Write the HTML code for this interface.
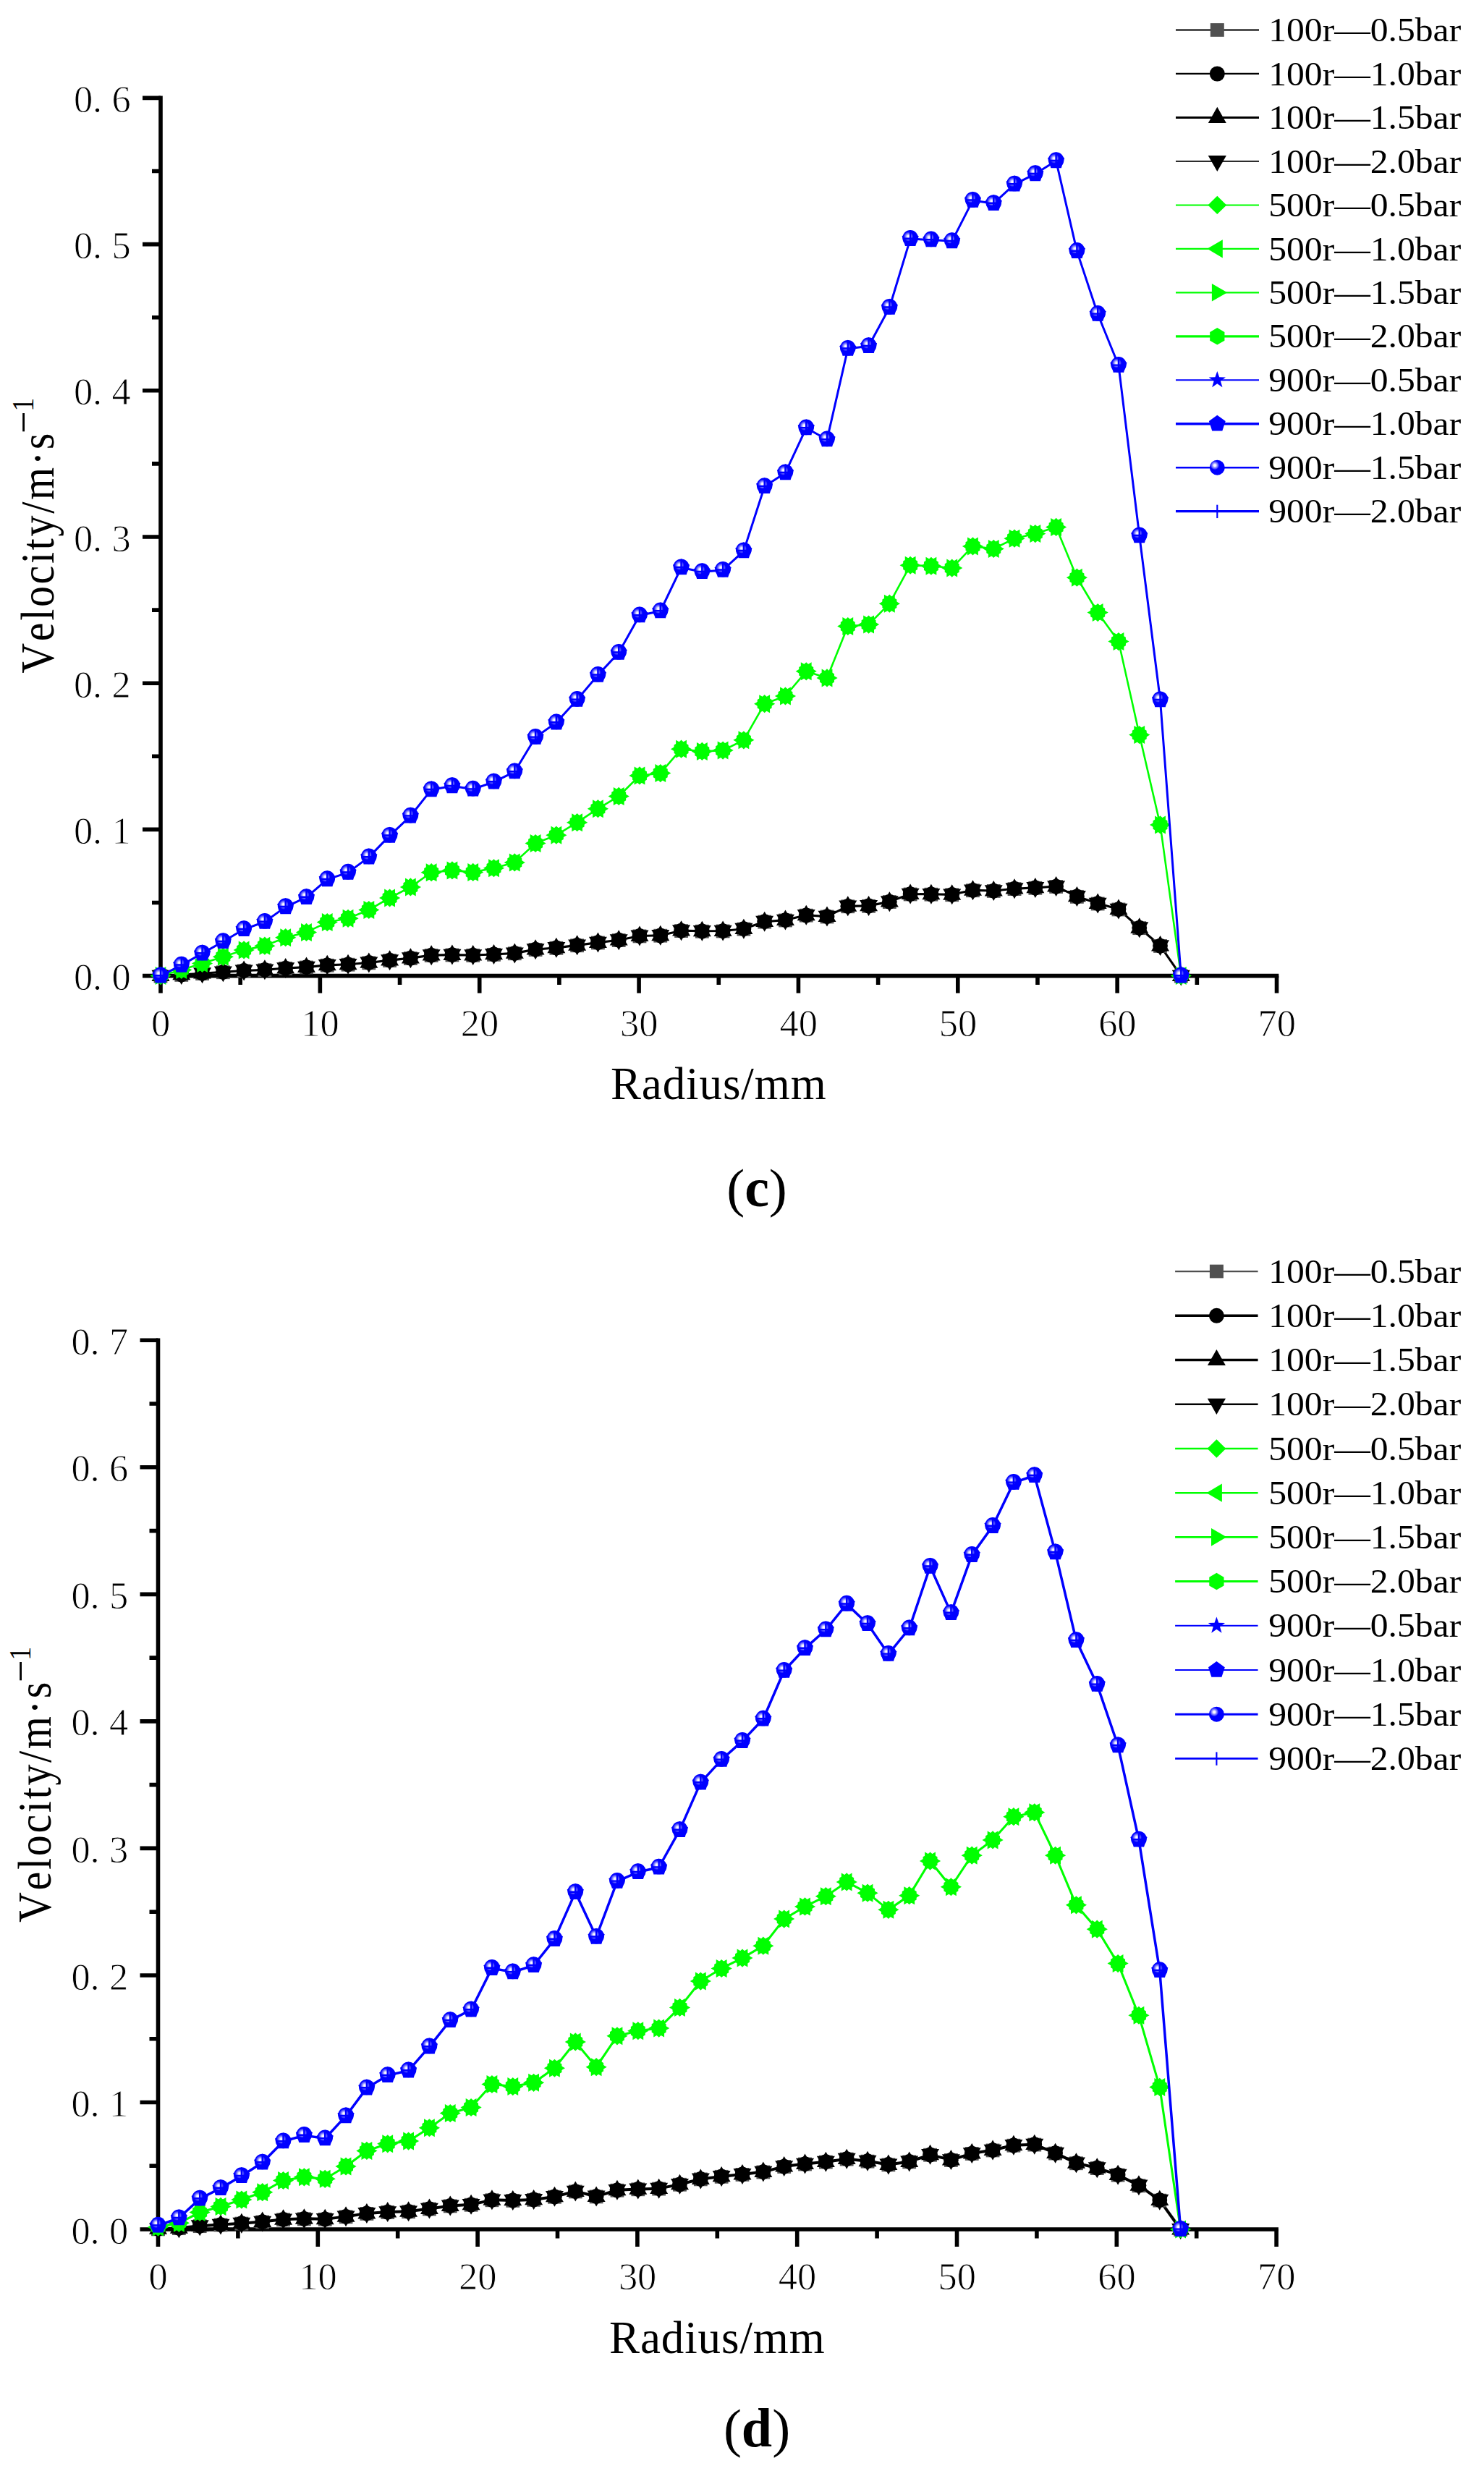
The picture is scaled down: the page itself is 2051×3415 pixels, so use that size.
<!DOCTYPE html>
<html lang="en"><head><meta charset="utf-8"><title>Velocity vs Radius</title>
<style>html,body{margin:0;padding:0;background:#fff}svg{display:block}</style></head>
<body>
<svg width="2051" height="3415" viewBox="0 0 2051 3415">
<defs><radialGradient id="sph" gradientUnits="userSpaceOnUse" cx="-2.6" cy="-3.2" r="6.6"><stop offset="0" stop-color="#ffffff"/><stop offset="0.25" stop-color="#f0f0ff"/><stop offset="0.55" stop-color="#9090ff"/><stop offset="0.85" stop-color="#3030ff"/><stop offset="1" stop-color="#0000ff"/></radialGradient><radialGradient id="sph2" gradientUnits="userSpaceOnUse" cx="-3.3" cy="-3.1" r="6"><stop offset="0" stop-color="#ffffff"/><stop offset="0.25" stop-color="#f4f4ff"/><stop offset="0.5" stop-color="#a0a0ff"/><stop offset="0.85" stop-color="#4040ff"/><stop offset="1" stop-color="#0000ff"/></radialGradient><g id="mk"><rect x="-9.4" y="-9" width="18.8" height="18.8" fill="#555"/><circle r="10.4" fill="#000"/><polygon points="0,-14 12.5,7.4 -12.5,7.4" fill="#000"/><polygon points="0,14 12.5,-7.9 -12.5,-7.9" fill="#000"/></g><g id="mg"><polygon points="0,-12.6 12.6,0 0,12.6 -12.6,0" fill="#0f0"/><polygon points="-14.6,0 7.4,-12.5 7.4,12.5" fill="#0f0"/><polygon points="14.6,0 -7.4,-12.5 -7.4,12.5" fill="#0f0"/><polygon points="0,-11.5 9.96,-5.75 9.96,5.75 0,11.5 -9.96,5.75 -9.96,-5.75" fill="#0f0"/></g><g id="mb"><polygon points="0,-12.2 2.94,-4.05 11.6,-3.77 4.76,1.55 7.17,9.87 0,5 -7.17,9.87 -4.76,1.55 -11.6,-3.77 -2.94,-4.05" fill="#00f"/><polygon points="0,-12.1 11.51,-3.74 7.11,9.79 -7.11,9.79 -11.51,-3.74" fill="#00f"/><circle cy="-1.2" r="10.8" fill="url(#sph)"/><path d="M0,-9V9M-9,-0.4H9" stroke="#00f" stroke-width="2.4" fill="none"/></g></defs>
<rect width="2051" height="3415" fill="#fff"/>
<path d="M222,132.6 V1372.6 M197,1348.6 H1767.32" stroke="#000" stroke-width="5.6" fill="none"/>
<path d="M210,1247.5 H222 M197,1146.4 H222 M210,1045.3 H222 M197,944.2 H222 M210,843.1 H222 M197,742 H222 M210,640.9 H222 M197,539.8 H222 M210,438.7 H222 M197,337.6 H222 M210,236.5 H222 M197,135.4 H222 M332.18,1348.6 V1361.1 M442.36,1348.6 V1372.6 M552.54,1348.6 V1361.1 M662.72,1348.6 V1372.6 M772.9,1348.6 V1361.1 M883.08,1348.6 V1372.6 M993.26,1348.6 V1361.1 M1103.44,1348.6 V1372.6 M1213.62,1348.6 V1361.1 M1323.8,1348.6 V1372.6 M1433.98,1348.6 V1361.1 M1544.16,1348.6 V1372.6 M1654.34,1348.6 V1361.1 M1764.52,1348.6 V1372.6" stroke="#000" stroke-width="5.6" fill="none"/>
<g font-family="'Liberation Serif', serif" font-size="52.5" fill="#000" stroke="#fff" stroke-width="0.9">
<text x="102 128 154.5" y="1368.2">0.0</text>
<text x="102 128 154.5" y="1166">0.1</text>
<text x="102 128 154.5" y="963.8">0.2</text>
<text x="102 128 154.5" y="761.6">0.3</text>
<text x="102 128 154.5" y="559.4">0.4</text>
<text x="102 128 154.5" y="357.2">0.5</text>
<text x="102 128 154.5" y="155">0.6</text>
<text x="208.9" y="1431.8">0</text>
<text x="416.36 442.56" y="1431.8">10</text>
<text x="636.72 662.92" y="1431.8">20</text>
<text x="857.08 883.28" y="1431.8">30</text>
<text x="1077.44 1103.64" y="1431.8">40</text>
<text x="1297.8 1324" y="1431.8">50</text>
<text x="1518.16 1544.36" y="1431.8">60</text>
<text x="1738.52 1764.72" y="1431.8">70</text>
</g>
<polyline points="222,1348.6 250.78,1346.97 279.56,1345.18 308.35,1343.36 337.13,1341.48 365.91,1340.34 394.69,1338.06 423.47,1336.61 452.25,1333.85 481.04,1332.8 509.82,1330.45 538.6,1327.16 567.38,1324.16 596.16,1320.14 624.94,1319.58 653.73,1320.07 682.51,1318.95 711.29,1317.38 740.07,1312.13 768.85,1309.87 797.63,1306.37 826.42,1302.59 855.2,1299.17 883.98,1293.49 912.76,1292.81 941.54,1286.17 970.32,1286.82 999.11,1286.55 1027.89,1283.71 1056.67,1273.72 1085.45,1271.59 1114.23,1264.78 1143.01,1266.59 1171.8,1252.37 1200.58,1251.89 1229.36,1246.13 1258.14,1235.58 1286.92,1235.78 1315.71,1236.34 1344.49,1230.34 1373.27,1231.03 1402.05,1228.21 1430.83,1226.88 1459.61,1225.06 1488.4,1238.96 1517.18,1248.59 1545.96,1256.56 1574.74,1282.26 1603.52,1307.03 1632.3,1348.6" fill="none" stroke="#000" stroke-width="3.1" stroke-linejoin="round"/><use href="#mk" x="222" y="1348.6"/><use href="#mk" x="250.78" y="1346.97"/><use href="#mk" x="279.56" y="1345.18"/><use href="#mk" x="308.35" y="1343.36"/><use href="#mk" x="337.13" y="1341.48"/><use href="#mk" x="365.91" y="1340.34"/><use href="#mk" x="394.69" y="1338.06"/><use href="#mk" x="423.47" y="1336.61"/><use href="#mk" x="452.25" y="1333.85"/><use href="#mk" x="481.04" y="1332.8"/><use href="#mk" x="509.82" y="1330.45"/><use href="#mk" x="538.6" y="1327.16"/><use href="#mk" x="567.38" y="1324.16"/><use href="#mk" x="596.16" y="1320.14"/><use href="#mk" x="624.94" y="1319.58"/><use href="#mk" x="653.73" y="1320.07"/><use href="#mk" x="682.51" y="1318.95"/><use href="#mk" x="711.29" y="1317.38"/><use href="#mk" x="740.07" y="1312.13"/><use href="#mk" x="768.85" y="1309.87"/><use href="#mk" x="797.63" y="1306.37"/><use href="#mk" x="826.42" y="1302.59"/><use href="#mk" x="855.2" y="1299.17"/><use href="#mk" x="883.98" y="1293.49"/><use href="#mk" x="912.76" y="1292.81"/><use href="#mk" x="941.54" y="1286.17"/><use href="#mk" x="970.32" y="1286.82"/><use href="#mk" x="999.11" y="1286.55"/><use href="#mk" x="1027.89" y="1283.71"/><use href="#mk" x="1056.67" y="1273.72"/><use href="#mk" x="1085.45" y="1271.59"/><use href="#mk" x="1114.23" y="1264.78"/><use href="#mk" x="1143.01" y="1266.59"/><use href="#mk" x="1171.8" y="1252.37"/><use href="#mk" x="1200.58" y="1251.89"/><use href="#mk" x="1229.36" y="1246.13"/><use href="#mk" x="1258.14" y="1235.58"/><use href="#mk" x="1286.92" y="1235.78"/><use href="#mk" x="1315.71" y="1236.34"/><use href="#mk" x="1344.49" y="1230.34"/><use href="#mk" x="1373.27" y="1231.03"/><use href="#mk" x="1402.05" y="1228.21"/><use href="#mk" x="1430.83" y="1226.88"/><use href="#mk" x="1459.61" y="1225.06"/><use href="#mk" x="1488.4" y="1238.96"/><use href="#mk" x="1517.18" y="1248.59"/><use href="#mk" x="1545.96" y="1256.56"/><use href="#mk" x="1574.74" y="1282.26"/><use href="#mk" x="1603.52" y="1307.03"/><use href="#mk" x="1632.3" y="1348.6"/>
<polyline points="222,1348.6 250.78,1340.4 279.56,1331.41 308.35,1322.31 337.13,1312.88 365.91,1307.15 394.69,1295.69 423.47,1288.39 452.25,1274.57 481.04,1269.29 509.82,1257.5 538.6,1240.98 567.38,1225.93 596.16,1205.71 624.94,1202.9 653.73,1205.38 682.51,1199.76 711.29,1191.89 740.07,1165.5 768.85,1154.15 797.63,1136.63 826.42,1117.64 855.2,1100.46 883.98,1071.92 912.76,1068.55 941.54,1035.19 970.32,1038.45 999.11,1037.1 1027.89,1022.86 1056.67,972.71 1085.45,961.99 1114.23,927.82 1143.01,936.92 1171.8,865.54 1200.58,863.12 1229.36,834.2 1258.14,781.23 1286.92,782.24 1315.71,785.07 1344.49,754.94 1373.27,758.38 1402.05,744.22 1430.83,737.55 1459.61,728.45 1488.4,798.21 1517.18,846.54 1545.96,886.57 1574.74,1015.58 1603.52,1139.93 1632.3,1348.6" fill="none" stroke="#0f0" stroke-width="2.6" stroke-linejoin="round"/><use href="#mg" x="222" y="1348.6"/><use href="#mg" x="250.78" y="1340.4"/><use href="#mg" x="279.56" y="1331.41"/><use href="#mg" x="308.35" y="1322.31"/><use href="#mg" x="337.13" y="1312.88"/><use href="#mg" x="365.91" y="1307.15"/><use href="#mg" x="394.69" y="1295.69"/><use href="#mg" x="423.47" y="1288.39"/><use href="#mg" x="452.25" y="1274.57"/><use href="#mg" x="481.04" y="1269.29"/><use href="#mg" x="509.82" y="1257.5"/><use href="#mg" x="538.6" y="1240.98"/><use href="#mg" x="567.38" y="1225.93"/><use href="#mg" x="596.16" y="1205.71"/><use href="#mg" x="624.94" y="1202.9"/><use href="#mg" x="653.73" y="1205.38"/><use href="#mg" x="682.51" y="1199.76"/><use href="#mg" x="711.29" y="1191.89"/><use href="#mg" x="740.07" y="1165.5"/><use href="#mg" x="768.85" y="1154.15"/><use href="#mg" x="797.63" y="1136.63"/><use href="#mg" x="826.42" y="1117.64"/><use href="#mg" x="855.2" y="1100.46"/><use href="#mg" x="883.98" y="1071.92"/><use href="#mg" x="912.76" y="1068.55"/><use href="#mg" x="941.54" y="1035.19"/><use href="#mg" x="970.32" y="1038.45"/><use href="#mg" x="999.11" y="1037.1"/><use href="#mg" x="1027.89" y="1022.86"/><use href="#mg" x="1056.67" y="972.71"/><use href="#mg" x="1085.45" y="961.99"/><use href="#mg" x="1114.23" y="927.82"/><use href="#mg" x="1143.01" y="936.92"/><use href="#mg" x="1171.8" y="865.54"/><use href="#mg" x="1200.58" y="863.12"/><use href="#mg" x="1229.36" y="834.2"/><use href="#mg" x="1258.14" y="781.23"/><use href="#mg" x="1286.92" y="782.24"/><use href="#mg" x="1315.71" y="785.07"/><use href="#mg" x="1344.49" y="754.94"/><use href="#mg" x="1373.27" y="758.38"/><use href="#mg" x="1402.05" y="744.22"/><use href="#mg" x="1430.83" y="737.55"/><use href="#mg" x="1459.61" y="728.45"/><use href="#mg" x="1488.4" y="798.21"/><use href="#mg" x="1517.18" y="846.54"/><use href="#mg" x="1545.96" y="886.57"/><use href="#mg" x="1574.74" y="1015.58"/><use href="#mg" x="1603.52" y="1139.93"/><use href="#mg" x="1632.3" y="1348.6"/>
<polyline points="222,1348.6 250.78,1333.84 279.56,1317.66 308.35,1301.29 337.13,1284.3 365.91,1273.99 394.69,1253.36 423.47,1240.22 452.25,1215.35 481.04,1205.85 509.82,1184.62 538.6,1154.89 567.38,1127.8 596.16,1091.4 624.94,1086.35 653.73,1090.79 682.51,1080.68 711.29,1066.53 740.07,1019.01 768.85,998.59 797.63,967.05 826.42,932.88 855.2,901.94 883.98,850.58 912.76,844.52 941.54,784.46 970.32,790.33 999.11,787.9 1027.89,761.41 1056.67,672.24 1085.45,653.44 1114.23,591.56 1143.01,607.54 1171.8,481.97 1200.58,478.33 1229.36,424.95 1258.14,330.12 1286.92,331.53 1315.71,333.35 1344.49,276.94 1373.27,281.19 1402.05,254.7 1430.83,240.34 1459.61,222.35 1488.4,347.1 1517.18,434.05 1545.96,505.02 1574.74,740.38 1603.52,967.45 1632.3,1348.6" fill="none" stroke="#00f" stroke-width="3.0" stroke-linejoin="round"/><use href="#mb" x="222" y="1348.6"/><use href="#mb" x="250.78" y="1333.84"/><use href="#mb" x="279.56" y="1317.66"/><use href="#mb" x="308.35" y="1301.29"/><use href="#mb" x="337.13" y="1284.3"/><use href="#mb" x="365.91" y="1273.99"/><use href="#mb" x="394.69" y="1253.36"/><use href="#mb" x="423.47" y="1240.22"/><use href="#mb" x="452.25" y="1215.35"/><use href="#mb" x="481.04" y="1205.85"/><use href="#mb" x="509.82" y="1184.62"/><use href="#mb" x="538.6" y="1154.89"/><use href="#mb" x="567.38" y="1127.8"/><use href="#mb" x="596.16" y="1091.4"/><use href="#mb" x="624.94" y="1086.35"/><use href="#mb" x="653.73" y="1090.79"/><use href="#mb" x="682.51" y="1080.68"/><use href="#mb" x="711.29" y="1066.53"/><use href="#mb" x="740.07" y="1019.01"/><use href="#mb" x="768.85" y="998.59"/><use href="#mb" x="797.63" y="967.05"/><use href="#mb" x="826.42" y="932.88"/><use href="#mb" x="855.2" y="901.94"/><use href="#mb" x="883.98" y="850.58"/><use href="#mb" x="912.76" y="844.52"/><use href="#mb" x="941.54" y="784.46"/><use href="#mb" x="970.32" y="790.33"/><use href="#mb" x="999.11" y="787.9"/><use href="#mb" x="1027.89" y="761.41"/><use href="#mb" x="1056.67" y="672.24"/><use href="#mb" x="1085.45" y="653.44"/><use href="#mb" x="1114.23" y="591.56"/><use href="#mb" x="1143.01" y="607.54"/><use href="#mb" x="1171.8" y="481.97"/><use href="#mb" x="1200.58" y="478.33"/><use href="#mb" x="1229.36" y="424.95"/><use href="#mb" x="1258.14" y="330.12"/><use href="#mb" x="1286.92" y="331.53"/><use href="#mb" x="1315.71" y="333.35"/><use href="#mb" x="1344.49" y="276.94"/><use href="#mb" x="1373.27" y="281.19"/><use href="#mb" x="1402.05" y="254.7"/><use href="#mb" x="1430.83" y="240.34"/><use href="#mb" x="1459.61" y="222.35"/><use href="#mb" x="1488.4" y="347.1"/><use href="#mb" x="1517.18" y="434.05"/><use href="#mb" x="1545.96" y="505.02"/><use href="#mb" x="1574.74" y="740.38"/><use href="#mb" x="1603.52" y="967.45"/><use href="#mb" x="1632.3" y="1348.6"/>
<text transform="translate(73.8,739) rotate(-90) scale(0.88,1)" text-anchor="middle" font-family="'Liberation Serif', serif" font-size="66" letter-spacing="3.0" style="font-kerning:none" fill="#000">Velocity/m·s<tspan dy="-27.5" font-size="56">–</tspan><tspan font-size="43">1</tspan></text>
<text x="993.26" y="1519.1" text-anchor="middle" font-family="'Liberation Serif', serif" font-size="63" letter-spacing="0.9" fill="#000">Radius/mm</text>
<text x="1046" y="1666.5" text-anchor="middle" font-family="'Liberation Serif', serif" font-size="76" fill="#000"><tspan font-size="75">(</tspan><tspan font-weight="bold">c</tspan><tspan font-size="75">)</tspan></text>
<g font-family="'Liberation Serif', serif" font-size="46.5" fill="#000">
<path d="M1625,41.5 H1740" stroke="#505050" stroke-width="3.0"/>
<g transform="translate(1682.3,41.5)"><rect x="-9.5" y="-9.4" width="19" height="18.7" fill="#505050"/></g>
<text transform="translate(1753.2,57.2) scale(1.0675,1)">100r—0.5bar</text>
<path d="M1625,101.97 H1740" stroke="#000" stroke-width="2.2"/>
<g transform="translate(1682.3,101.97)"><circle r="10.5" fill="#000"/></g>
<text transform="translate(1753.2,117.67) scale(1.0675,1)">100r—1.0bar</text>
<path d="M1625,162.44 H1740" stroke="#000" stroke-width="3.1"/>
<g transform="translate(1682.3,162.44)"><polygon points="0,-14.6 12.5,7.6 -12.5,7.6" fill="#000"/></g>
<text transform="translate(1753.2,178.14) scale(1.0675,1)">100r—1.5bar</text>
<path d="M1625,222.91 H1740" stroke="#000" stroke-width="1.9"/>
<g transform="translate(1682.3,222.91)"><polygon points="0,14.2 12.6,-8 -12.6,-8" fill="#000"/></g>
<text transform="translate(1753.2,238.61) scale(1.0675,1)">100r—2.0bar</text>
<path d="M1625,283.38 H1740" stroke="#0f0" stroke-width="2.0"/>
<g transform="translate(1682.3,283.38)"><polygon points="0,-12.7 12.9,0 0,12.7 -12.9,0" fill="#0f0"/></g>
<text transform="translate(1753.2,299.08) scale(1.0675,1)">500r—0.5bar</text>
<path d="M1625,343.85 H1740" stroke="#0f0" stroke-width="2.2"/>
<g transform="translate(1682.3,343.85)"><polygon points="-13.9,0 7.5,-12.6 7.5,12.6" fill="#0f0"/></g>
<text transform="translate(1753.2,359.55) scale(1.0675,1)">500r—1.0bar</text>
<path d="M1625,404.32 H1740" stroke="#0f0" stroke-width="2.2"/>
<g transform="translate(1682.3,404.32)"><polygon points="13.9,0 -7.4,-12.3 -7.4,12.3" fill="#0f0"/></g>
<text transform="translate(1753.2,420.02) scale(1.0675,1)">500r—1.5bar</text>
<path d="M1625,464.79 H1740" stroke="#0f0" stroke-width="3.3"/>
<g transform="translate(1682.3,464.79)"><polygon points="0,-11.7 10.13,-5.85 10.13,5.85 0,11.7 -10.13,5.85 -10.13,-5.85" fill="#0f0"/></g>
<text transform="translate(1753.2,480.49) scale(1.0675,1)">500r—2.0bar</text>
<path d="M1625,525.26 H1740" stroke="#00f" stroke-width="2.1"/>
<g transform="translate(1682.3,525.26)"><polygon points="0,-12.2 2.88,-3.96 11.6,-3.77 4.66,1.51 7.17,9.87 0,4.9 -7.17,9.87 -4.66,1.51 -11.6,-3.77 -2.88,-3.96" fill="#00f"/></g>
<text transform="translate(1753.2,540.96) scale(1.0675,1)">900r—0.5bar</text>
<path d="M1625,585.73 H1740" stroke="#00f" stroke-width="3.3"/>
<g transform="translate(1682.3,585.73)"><polygon points="0,-12 11.41,-3.71 7.05,9.71 -7.05,9.71 -11.41,-3.71" fill="#00f"/></g>
<text transform="translate(1753.2,601.43) scale(1.0675,1)">900r—1.0bar</text>
<path d="M1625,646.2 H1740" stroke="#00f" stroke-width="2.4"/>
<g transform="translate(1682.3,646.2)"><circle r="10.5" fill="url(#sph2)"/></g>
<text transform="translate(1753.2,661.9) scale(1.0675,1)">900r—1.5bar</text>
<path d="M1625,706.67 H1740" stroke="#00f" stroke-width="3.2"/>
<g transform="translate(1682.3,706.67)"><path d="M0,-9V9.4" stroke="#00f" stroke-width="2.1"/></g>
<text transform="translate(1753.2,722.37) scale(1.0675,1)">900r—2.0bar</text>
</g>
<path d="M218.5,1849.49 V3105 M193.5,3081 H1766.9" stroke="#000" stroke-width="5.6" fill="none"/>
<path d="M206.5,2993.24 H218.5 M193.5,2905.47 H218.5 M206.5,2817.7 H218.5 M193.5,2729.94 H218.5 M206.5,2642.18 H218.5 M193.5,2554.41 H218.5 M206.5,2466.64 H218.5 M193.5,2378.88 H218.5 M206.5,2291.11 H218.5 M193.5,2203.35 H218.5 M206.5,2115.59 H218.5 M193.5,2027.82 H218.5 M206.5,1940.06 H218.5 M193.5,1852.29 H218.5 M328.9,3081 V3093.5 M439.3,3081 V3105 M549.7,3081 V3093.5 M660.1,3081 V3105 M770.5,3081 V3093.5 M880.9,3081 V3105 M991.3,3081 V3093.5 M1101.7,3081 V3105 M1212.1,3081 V3093.5 M1322.5,3081 V3105 M1432.9,3081 V3093.5 M1543.3,3081 V3105 M1653.7,3081 V3093.5 M1764.1,3081 V3105" stroke="#000" stroke-width="5.6" fill="none"/>
<g font-family="'Liberation Serif', serif" font-size="52.5" fill="#000" stroke="#fff" stroke-width="0.9">
<text x="98.5 124.5 151" y="3100.6">0.0</text>
<text x="98.5 124.5 151" y="2925.07">0.1</text>
<text x="98.5 124.5 151" y="2749.54">0.2</text>
<text x="98.5 124.5 151" y="2574.01">0.3</text>
<text x="98.5 124.5 151" y="2398.48">0.4</text>
<text x="98.5 124.5 151" y="2222.95">0.5</text>
<text x="98.5 124.5 151" y="2047.42">0.6</text>
<text x="98.5 124.5 151" y="1871.89">0.7</text>
<text x="205.4" y="3164.2">0</text>
<text x="413.3 439.5" y="3164.2">10</text>
<text x="634.1 660.3" y="3164.2">20</text>
<text x="854.9 881.1" y="3164.2">30</text>
<text x="1075.7 1101.9" y="3164.2">40</text>
<text x="1296.5 1322.7" y="3164.2">50</text>
<text x="1517.3 1543.5" y="3164.2">60</text>
<text x="1738.1 1764.3" y="3164.2">70</text>
</g>
<polyline points="218.5,3080.41 247.34,3079.24 276.18,3076.24 305.02,3074.6 333.86,3072.7 362.7,3070.6 391.54,3067.32 420.37,3066.37 449.21,3066.87 478.05,3063.37 506.89,3059 535.73,3057.04 564.57,3056.29 593.41,3052.58 622.25,3048.48 651.09,3046.84 679.93,3040.36 708.77,3040.97 737.61,3039.92 766.44,3035.85 795.28,3028.54 824.12,3035.5 852.96,3026.84 881.8,3025.4 910.64,3024.66 939.48,3018.85 968.32,3011.48 997.16,3007.92 1026,3005 1054.84,3001.58 1083.68,2994.07 1112.51,2990.59 1141.35,2987.7 1170.19,2983.69 1199.03,2986.77 1227.87,2991.48 1256.71,2987.48 1285.55,2977.84 1314.39,2985.07 1343.23,2976.06 1372.07,2971.55 1400.91,2964.79 1429.75,2963.68 1458.58,2975.64 1487.42,2989.36 1516.26,2996.2 1545.1,3005.71 1573.94,3020.37 1602.78,3040.72 1631.62,3081" fill="none" stroke="#000" stroke-width="4.0" stroke-linejoin="round"/><use href="#mk" x="218.5" y="3080.41"/><use href="#mk" x="247.34" y="3079.24"/><use href="#mk" x="276.18" y="3076.24"/><use href="#mk" x="305.02" y="3074.6"/><use href="#mk" x="333.86" y="3072.7"/><use href="#mk" x="362.7" y="3070.6"/><use href="#mk" x="391.54" y="3067.32"/><use href="#mk" x="420.37" y="3066.37"/><use href="#mk" x="449.21" y="3066.87"/><use href="#mk" x="478.05" y="3063.37"/><use href="#mk" x="506.89" y="3059"/><use href="#mk" x="535.73" y="3057.04"/><use href="#mk" x="564.57" y="3056.29"/><use href="#mk" x="593.41" y="3052.58"/><use href="#mk" x="622.25" y="3048.48"/><use href="#mk" x="651.09" y="3046.84"/><use href="#mk" x="679.93" y="3040.36"/><use href="#mk" x="708.77" y="3040.97"/><use href="#mk" x="737.61" y="3039.92"/><use href="#mk" x="766.44" y="3035.85"/><use href="#mk" x="795.28" y="3028.54"/><use href="#mk" x="824.12" y="3035.5"/><use href="#mk" x="852.96" y="3026.84"/><use href="#mk" x="881.8" y="3025.4"/><use href="#mk" x="910.64" y="3024.66"/><use href="#mk" x="939.48" y="3018.85"/><use href="#mk" x="968.32" y="3011.48"/><use href="#mk" x="997.16" y="3007.92"/><use href="#mk" x="1026" y="3005"/><use href="#mk" x="1054.84" y="3001.58"/><use href="#mk" x="1083.68" y="2994.07"/><use href="#mk" x="1112.51" y="2990.59"/><use href="#mk" x="1141.35" y="2987.7"/><use href="#mk" x="1170.19" y="2983.69"/><use href="#mk" x="1199.03" y="2986.77"/><use href="#mk" x="1227.87" y="2991.48"/><use href="#mk" x="1256.71" y="2987.48"/><use href="#mk" x="1285.55" y="2977.84"/><use href="#mk" x="1314.39" y="2985.07"/><use href="#mk" x="1343.23" y="2976.06"/><use href="#mk" x="1372.07" y="2971.55"/><use href="#mk" x="1400.91" y="2964.79"/><use href="#mk" x="1429.75" y="2963.68"/><use href="#mk" x="1458.58" y="2975.64"/><use href="#mk" x="1487.42" y="2989.36"/><use href="#mk" x="1516.26" y="2996.2"/><use href="#mk" x="1545.1" y="3005.71"/><use href="#mk" x="1573.94" y="3020.37"/><use href="#mk" x="1602.78" y="3040.72"/><use href="#mk" x="1631.62" y="3081"/>
<polyline points="218.5,3078.07 247.34,3072.32 276.18,3057.5 305.02,3049.4 333.86,3040.04 362.7,3029.71 391.54,3013.52 420.37,3008.84 449.21,3011.28 478.05,2994.02 506.89,2972.46 535.73,2962.81 564.57,2959.1 593.41,2940.77 622.25,2920.59 651.09,2912.49 679.93,2880.51 708.77,2883.53 737.61,2878.36 766.44,2858.27 795.28,2821.92 824.12,2856.67 852.96,2813.8 881.8,2806.69 910.64,2803.08 939.48,2774.41 968.32,2738.03 997.16,2720.48 1026,2706.05 1054.84,2689.18 1083.68,2652.12 1112.51,2634.96 1141.35,2620.72 1170.19,2600.93 1199.03,2616.14 1227.87,2639.35 1256.71,2619.65 1285.55,2572.06 1314.39,2607.75 1343.23,2564.18 1372.07,2542.92 1400.91,2510.67 1429.75,2504.74 1458.58,2564.24 1487.42,2632.87 1516.26,2666.22 1545.1,2713.62 1573.94,2785.23 1602.78,2884.41 1631.62,3081" fill="none" stroke="#0f0" stroke-width="3.1" stroke-linejoin="round"/><use href="#mg" x="218.5" y="3078.07"/><use href="#mg" x="247.34" y="3072.32"/><use href="#mg" x="276.18" y="3057.5"/><use href="#mg" x="305.02" y="3049.4"/><use href="#mg" x="333.86" y="3040.04"/><use href="#mg" x="362.7" y="3029.71"/><use href="#mg" x="391.54" y="3013.52"/><use href="#mg" x="420.37" y="3008.84"/><use href="#mg" x="449.21" y="3011.28"/><use href="#mg" x="478.05" y="2994.02"/><use href="#mg" x="506.89" y="2972.46"/><use href="#mg" x="535.73" y="2962.81"/><use href="#mg" x="564.57" y="2959.1"/><use href="#mg" x="593.41" y="2940.77"/><use href="#mg" x="622.25" y="2920.59"/><use href="#mg" x="651.09" y="2912.49"/><use href="#mg" x="679.93" y="2880.51"/><use href="#mg" x="708.77" y="2883.53"/><use href="#mg" x="737.61" y="2878.36"/><use href="#mg" x="766.44" y="2858.27"/><use href="#mg" x="795.28" y="2821.92"/><use href="#mg" x="824.12" y="2856.67"/><use href="#mg" x="852.96" y="2813.8"/><use href="#mg" x="881.8" y="2806.69"/><use href="#mg" x="910.64" y="2803.08"/><use href="#mg" x="939.48" y="2774.41"/><use href="#mg" x="968.32" y="2738.03"/><use href="#mg" x="997.16" y="2720.48"/><use href="#mg" x="1026" y="2706.05"/><use href="#mg" x="1054.84" y="2689.18"/><use href="#mg" x="1083.68" y="2652.12"/><use href="#mg" x="1112.51" y="2634.96"/><use href="#mg" x="1141.35" y="2620.72"/><use href="#mg" x="1170.19" y="2600.93"/><use href="#mg" x="1199.03" y="2616.14"/><use href="#mg" x="1227.87" y="2639.35"/><use href="#mg" x="1256.71" y="2619.65"/><use href="#mg" x="1285.55" y="2572.06"/><use href="#mg" x="1314.39" y="2607.75"/><use href="#mg" x="1343.23" y="2564.18"/><use href="#mg" x="1372.07" y="2542.92"/><use href="#mg" x="1400.91" y="2510.67"/><use href="#mg" x="1429.75" y="2504.74"/><use href="#mg" x="1458.58" y="2564.24"/><use href="#mg" x="1487.42" y="2632.87"/><use href="#mg" x="1516.26" y="2666.22"/><use href="#mg" x="1545.1" y="2713.62"/><use href="#mg" x="1573.94" y="2785.23"/><use href="#mg" x="1602.78" y="2884.41"/><use href="#mg" x="1631.62" y="3081"/>
<polyline points="218.5,3075.73 247.34,3065.38 276.18,3038.7 305.02,3024.13 333.86,3007.28 362.7,2988.67 391.54,2959.53 420.37,2951.11 449.21,2955.5 478.05,2924.43 506.89,2885.64 535.73,2868.26 564.57,2861.59 593.41,2828.59 622.25,2792.25 651.09,2777.68 679.93,2720.11 708.77,2725.55 737.61,2716.25 766.44,2680.09 795.28,2615.14 824.12,2676.93 852.96,2600.05 881.8,2587.23 910.64,2580.74 939.48,2529.13 968.32,2463.66 997.16,2432.07 1026,2406.09 1054.84,2375.72 1083.68,2309.02 1112.51,2278.13 1141.35,2252.5 1170.19,2216.87 1199.03,2244.25 1227.87,2286.02 1256.71,2250.57 1285.55,2164.91 1314.39,2229.15 1343.23,2149.11 1372.07,2109.09 1400.91,2049.06 1429.75,2039.23 1458.58,2145.43 1487.42,2267.24 1516.26,2327.98 1545.1,2412.41 1573.94,2542.65 1602.78,2723.27 1631.62,3081" fill="none" stroke="#00f" stroke-width="3.5" stroke-linejoin="round"/><use href="#mb" x="218.5" y="3075.73"/><use href="#mb" x="247.34" y="3065.38"/><use href="#mb" x="276.18" y="3038.7"/><use href="#mb" x="305.02" y="3024.13"/><use href="#mb" x="333.86" y="3007.28"/><use href="#mb" x="362.7" y="2988.67"/><use href="#mb" x="391.54" y="2959.53"/><use href="#mb" x="420.37" y="2951.11"/><use href="#mb" x="449.21" y="2955.5"/><use href="#mb" x="478.05" y="2924.43"/><use href="#mb" x="506.89" y="2885.64"/><use href="#mb" x="535.73" y="2868.26"/><use href="#mb" x="564.57" y="2861.59"/><use href="#mb" x="593.41" y="2828.59"/><use href="#mb" x="622.25" y="2792.25"/><use href="#mb" x="651.09" y="2777.68"/><use href="#mb" x="679.93" y="2720.11"/><use href="#mb" x="708.77" y="2725.55"/><use href="#mb" x="737.61" y="2716.25"/><use href="#mb" x="766.44" y="2680.09"/><use href="#mb" x="795.28" y="2615.14"/><use href="#mb" x="824.12" y="2676.93"/><use href="#mb" x="852.96" y="2600.05"/><use href="#mb" x="881.8" y="2587.23"/><use href="#mb" x="910.64" y="2580.74"/><use href="#mb" x="939.48" y="2529.13"/><use href="#mb" x="968.32" y="2463.66"/><use href="#mb" x="997.16" y="2432.07"/><use href="#mb" x="1026" y="2406.09"/><use href="#mb" x="1054.84" y="2375.72"/><use href="#mb" x="1083.68" y="2309.02"/><use href="#mb" x="1112.51" y="2278.13"/><use href="#mb" x="1141.35" y="2252.5"/><use href="#mb" x="1170.19" y="2216.87"/><use href="#mb" x="1199.03" y="2244.25"/><use href="#mb" x="1227.87" y="2286.02"/><use href="#mb" x="1256.71" y="2250.57"/><use href="#mb" x="1285.55" y="2164.91"/><use href="#mb" x="1314.39" y="2229.15"/><use href="#mb" x="1343.23" y="2149.11"/><use href="#mb" x="1372.07" y="2109.09"/><use href="#mb" x="1400.91" y="2049.06"/><use href="#mb" x="1429.75" y="2039.23"/><use href="#mb" x="1458.58" y="2145.43"/><use href="#mb" x="1487.42" y="2267.24"/><use href="#mb" x="1516.26" y="2327.98"/><use href="#mb" x="1545.1" y="2412.41"/><use href="#mb" x="1573.94" y="2542.65"/><use href="#mb" x="1602.78" y="2723.27"/><use href="#mb" x="1631.62" y="3081"/>
<text transform="translate(69.8,2465.14) rotate(-90) scale(0.88,1)" text-anchor="middle" font-family="'Liberation Serif', serif" font-size="66" letter-spacing="3.0" style="font-kerning:none" fill="#000">Velocity/m·s<tspan dy="-27.5" font-size="56">–</tspan><tspan font-size="43">1</tspan></text>
<text x="991.3" y="3251.5" text-anchor="middle" font-family="'Liberation Serif', serif" font-size="63" letter-spacing="0.9" fill="#000">Radius/mm</text>
<text x="1046" y="3381" text-anchor="middle" font-family="'Liberation Serif', serif" font-size="76" fill="#000"><tspan font-size="75">(</tspan><tspan font-weight="bold">d</tspan><tspan font-size="75">)</tspan></text>
<g font-family="'Liberation Serif', serif" font-size="46.5" fill="#000">
<path d="M1624.1,1757.1 H1738.56" stroke="#505050" stroke-width="2.2"/>
<g transform="translate(1681.4,1757.1)"><rect x="-9.5" y="-9.4" width="19" height="18.7" fill="#505050"/></g>
<text transform="translate(1753.2,1772.8) scale(1.0675,1)">100r—0.5bar</text>
<path d="M1624.1,1818.31 H1738.56" stroke="#000" stroke-width="3.5"/>
<g transform="translate(1681.4,1818.31)"><circle r="10.5" fill="#000"/></g>
<text transform="translate(1753.2,1834.01) scale(1.0675,1)">100r—1.0bar</text>
<path d="M1624.1,1879.52 H1738.56" stroke="#000" stroke-width="3.6"/>
<g transform="translate(1681.4,1879.52)"><polygon points="0,-14.6 12.5,7.6 -12.5,7.6" fill="#000"/></g>
<text transform="translate(1753.2,1895.22) scale(1.0675,1)">100r—1.5bar</text>
<path d="M1624.1,1940.73 H1738.56" stroke="#000" stroke-width="2.7"/>
<g transform="translate(1681.4,1940.73)"><polygon points="0,14.2 12.6,-8 -12.6,-8" fill="#000"/></g>
<text transform="translate(1753.2,1956.43) scale(1.0675,1)">100r—2.0bar</text>
<path d="M1624.1,2001.94 H1738.56" stroke="#0f0" stroke-width="2.4"/>
<g transform="translate(1681.4,2001.94)"><polygon points="0,-12.7 12.9,0 0,12.7 -12.9,0" fill="#0f0"/></g>
<text transform="translate(1753.2,2017.64) scale(1.0675,1)">500r—0.5bar</text>
<path d="M1624.1,2063.15 H1738.56" stroke="#0f0" stroke-width="2.5"/>
<g transform="translate(1681.4,2063.15)"><polygon points="-13.9,0 7.5,-12.6 7.5,12.6" fill="#0f0"/></g>
<text transform="translate(1753.2,2078.85) scale(1.0675,1)">500r—1.0bar</text>
<path d="M1624.1,2124.36 H1738.56" stroke="#0f0" stroke-width="2.7"/>
<g transform="translate(1681.4,2124.36)"><polygon points="13.9,0 -7.4,-12.3 -7.4,12.3" fill="#0f0"/></g>
<text transform="translate(1753.2,2140.06) scale(1.0675,1)">500r—1.5bar</text>
<path d="M1624.1,2185.57 H1738.56" stroke="#0f0" stroke-width="3.0"/>
<g transform="translate(1681.4,2185.57)"><polygon points="0,-11.7 10.13,-5.85 10.13,5.85 0,11.7 -10.13,5.85 -10.13,-5.85" fill="#0f0"/></g>
<text transform="translate(1753.2,2201.27) scale(1.0675,1)">500r—2.0bar</text>
<path d="M1624.1,2246.78 H1738.56" stroke="#00f" stroke-width="1.9"/>
<g transform="translate(1681.4,2246.78)"><polygon points="0,-12.2 2.88,-3.96 11.6,-3.77 4.66,1.51 7.17,9.87 0,4.9 -7.17,9.87 -4.66,1.51 -11.6,-3.77 -2.88,-3.96" fill="#00f"/></g>
<text transform="translate(1753.2,2262.48) scale(1.0675,1)">900r—0.5bar</text>
<path d="M1624.1,2307.99 H1738.56" stroke="#00f" stroke-width="2.1"/>
<g transform="translate(1681.4,2307.99)"><polygon points="0,-12 11.41,-3.71 7.05,9.71 -7.05,9.71 -11.41,-3.71" fill="#00f"/></g>
<text transform="translate(1753.2,2323.69) scale(1.0675,1)">900r—1.0bar</text>
<path d="M1624.1,2369.2 H1738.56" stroke="#00f" stroke-width="3.0"/>
<g transform="translate(1681.4,2369.2)"><circle r="10.5" fill="url(#sph2)"/></g>
<text transform="translate(1753.2,2384.9) scale(1.0675,1)">900r—1.5bar</text>
<path d="M1624.1,2430.41 H1738.56" stroke="#00f" stroke-width="2.7"/>
<g transform="translate(1681.4,2430.41)"><path d="M0,-9V9.4" stroke="#00f" stroke-width="2.1"/></g>
<text transform="translate(1753.2,2446.11) scale(1.0675,1)">900r—2.0bar</text>
</g>
</svg>
</body></html>
